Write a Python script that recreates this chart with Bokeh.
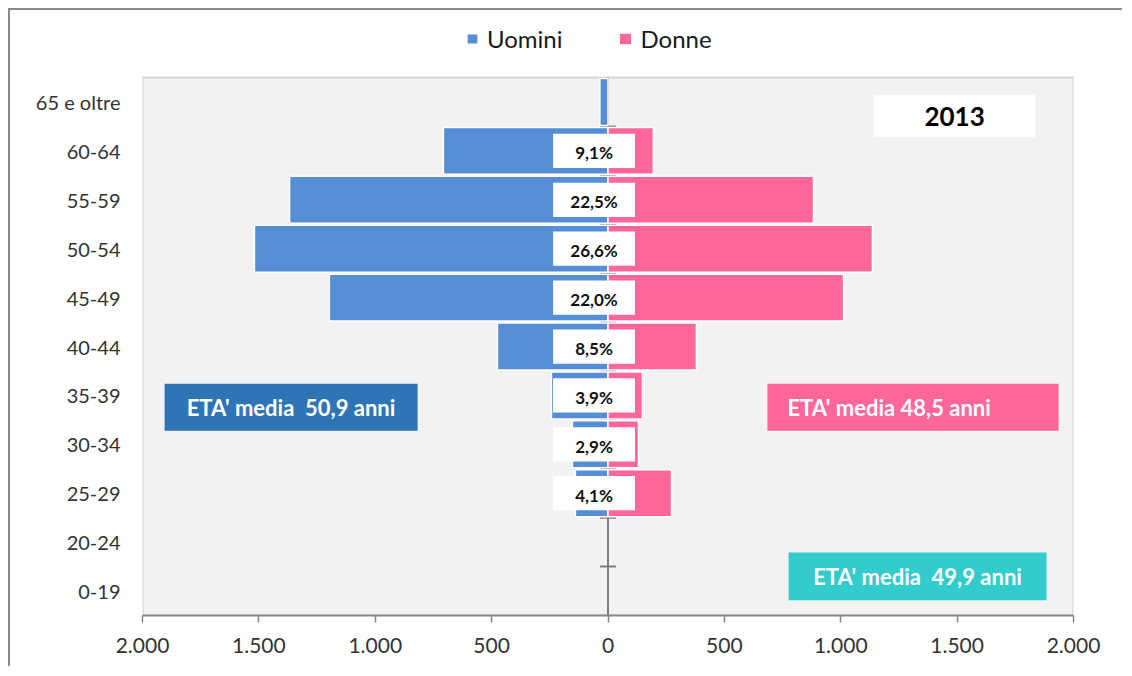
from bokeh.plotting import figure
from bokeh.models import (ColumnDataSource, Legend, LegendItem, CustomJSTickFormatter,
                          FixedTicker, BoxAnnotation, Label)
from bokeh.core.properties import value
from bokeh.embed import file_html
from bokeh.resources import INLINE

# ---- data ----
categories = ["65 e oltre", "60-64", "55-59", "50-54", "45-49", "40-44",
              "35-39", "30-34", "25-29", "20-24", "0-19"]
uomini = [35, 707, 1368, 1519, 1197, 475, 243, 153, 140, 0, 0]
donne = [0, 195, 883, 1136, 1012, 380, 148, 131, 273, 0, 0]
percentuali = ["", "9,1%", "22,5%", "26,6%", "22,0%", "8,5%", "3,9%", "2,9%", "4,1%", "", ""]
x_ticks = [-2000, -1500, -1000, -500, 0, 500, 1000, 1500, 2000]
anno = "2013"
eta_uomini = "ETA' media  50,9 anni"
eta_donne = "ETA' media 48,5 anni"
eta_totale = "ETA' media  49,9 anni"

# ---- style ----
BLUE = "#558ED5"
PINK = "#FF6699"
DARKBLUE = "#2E75B6"
TEAL = "#33CCCC"
GRAY = "#898989"
AXGRAY = "#7F7F7F"
FONT = "Lato"
HEADROOM = 1.166   # space above the plot area (category units) for the legend


def keep_spaces(s):
    return s.replace("  ", "\u00a0 ")


n = len(categories)
ypos = [n - i - 0.5 for i in range(n)]
xmin, xmax = x_ticks[0], x_ticks[-1]

src = ColumnDataSource(dict(
    y=ypos,
    cat=categories,
    men_left=[-v for v in uomini],
    women_right=donne,
    men_edge=[1 if v > 0 else 0 for v in uomini],
    women_edge=[1 if v > 0 else 0 for v in donne],
))

lab_idx = [i for i, t in enumerate(percentuali) if t]
lab_src = ColumnDataSource(dict(
    y=[ypos[i] for i in lab_idx],
    text=[percentuali[i] for i in lab_idx],
))

p = figure(width=1114, height=658, x_range=(xmin, xmax), y_range=(0, n + HEADROOM),
           output_backend="svg", toolbar_location=None,
           min_border_left=132, min_border_right=51, min_border_top=10, min_border_bottom=53)
p.styles = {"border-top": "2px solid #8a8a8a", "border-left": "2px solid #8a8a8a",
            "margin-left": "8px", "margin-top": "8px"}

p.background_fill_color = "white"
p.border_fill_color = "white"
p.outline_line_color = None
p.xgrid.visible = False
p.ygrid.visible = False

# plot area (gray panel with border)
p.add_layout(BoxAnnotation(left=xmin, right=xmax, bottom=0, top=n, level="underlay",
                           fill_color="#F2F2F2", fill_alpha=1,
                           line_color=GRAY, line_width=2))

# axis line at zero and category tick marks
p.segment(x0=[0], x1=[0], y0=[0], y1=[n], line_color=AXGRAY, line_width=2)
bounds = list(range(1, n))
p.segment(x0=[-34] * len(bounds), x1=[34] * len(bounds), y0=bounds, y1=bounds,
          line_color=AXGRAY, line_width=2)

r_men = p.hbar(y="y", left="men_left", right=0, height=0.96, source=src,
               fill_color=BLUE, line_color="white", line_width=1.5, line_alpha="men_edge")
r_women = p.hbar(y="y", left=0, right="women_right", height=0.96, source=src,
                 fill_color=PINK, line_color="white", line_width=1.5, line_alpha="women_edge")

# percentage labels on white boxes
p.hbar(y="y", left=-236, right=116, height=0.70, source=lab_src,
       fill_color="white", line_color=None)
p.text(x=-60, y="y", text="text", source=lab_src, text_align="center",
       text_baseline="middle", y_offset=2, text_font=value(FONT),
       text_font_style="bold", text_font_size="17px", text_color="#111111")

# axes
p.xaxis.ticker = FixedTicker(ticks=x_ticks)
p.xaxis.formatter = CustomJSTickFormatter(code="""
const v = Math.abs(tick);
if (v >= 1000) { return Math.floor(v/1000) + '.' + String(v % 1000).padStart(3, '0'); }
return String(v);
""")
p.xaxis.axis_line_color = GRAY
p.xaxis.axis_line_width = 2
p.xaxis.major_tick_line_color = GRAY
p.xaxis.major_tick_line_width = 1.5
p.xaxis.major_tick_out = 7
p.xaxis.major_tick_in = 0
p.xaxis.minor_tick_line_color = None
p.xaxis.major_label_standoff = 15
p.xaxis.major_label_text_font = FONT
p.xaxis.major_label_text_font_size = "21px"
p.xaxis.major_label_text_color = "#333333"

p.yaxis.ticker = FixedTicker(ticks=ypos)
p.yaxis.formatter = CustomJSTickFormatter(args=dict(cats=categories), code="""
const i = cats.length - 1 - Math.floor(tick);
return cats[i];
""")
p.yaxis.axis_line_color = None
p.yaxis.major_tick_line_color = None
p.yaxis.minor_tick_line_color = None
p.yaxis.major_label_standoff = 16
p.yaxis.major_label_text_font = FONT
p.yaxis.major_label_text_font_size = "20px"
p.yaxis.major_label_text_color = "#333333"

# annotation boxes
p.add_layout(BoxAnnotation(left=1141, right=1837, bottom=9.78, top=10.65,
                           fill_color="white", fill_alpha=1, line_color=None))
p.add_layout(Label(x=1489, y=10.21, text=anno, text_align="center", text_baseline="middle",
                   text_font=FONT, text_font_style="bold", text_font_size="26px",
                   text_color="black"))

p.add_layout(BoxAnnotation(left=-1905, right=-818, bottom=3.78, top=4.74,
                           fill_color=DARKBLUE, fill_alpha=1, line_color=None))
p.add_layout(Label(x=-1362, y=4.26, text=keep_spaces(eta_uomini), text_align="center",
                   text_baseline="middle", text_font=FONT, text_font_style="bold",
                   text_font_size="22px", text_color="white"))

p.add_layout(BoxAnnotation(left=685, right=1936, bottom=3.78, top=4.74,
                           fill_color=PINK, fill_alpha=1, line_color=None))
p.add_layout(Label(x=771, y=4.26, text=keep_spaces(eta_donne), text_align="left",
                   text_baseline="middle", text_font=FONT, text_font_style="bold",
                   text_font_size="22px", text_color="white"))

p.add_layout(BoxAnnotation(left=776, right=1884, bottom=0.31, top=1.29,
                           fill_color=TEAL, fill_alpha=1, line_color=None))
p.add_layout(Label(x=1330, y=0.80, text=keep_spaces(eta_totale), text_align="center",
                   text_baseline="middle", text_font=FONT, text_font_style="bold",
                   text_font_size="22px", text_color="white"))

# legend above the plot area (inside the frame's headroom)
legend = Legend(items=[LegendItem(label="Uomini", renderers=[r_men]),
                       LegendItem(label="Donne", renderers=[r_women])],
                orientation="horizontal", location=(323, 562),
                label_text_font=FONT, label_text_font_size="24px", label_text_color="#1a1a1a",
                glyph_width=14, glyph_height=13, label_standoff=8, spacing=56,
                padding=0, margin=0, border_line_color=None, background_fill_alpha=0)
p.add_layout(legend)

open("out.html", "w").write(file_html(p, INLINE))
